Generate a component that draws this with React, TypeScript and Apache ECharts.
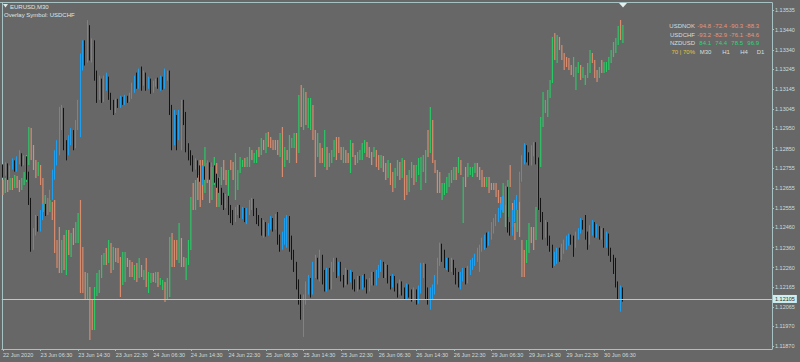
import React, { useEffect, useRef } from "react";
import * as echarts from "echarts";

const BG = "#676767";
const FRAME = "#a6c2c2";
const AXIS_TEXT = "#cddcdc";
const TITLE_TEXT = "#dde6e6";
const BULL = "#1e9ff0";
const BEAR = "#131313";
const OV_UP = "#2bc866";
const OV_DOWN = "#d98c6e";
const SALMON_TXT = "#e8957a";
const GREEN_TXT = "#2fd577";
const YELLOW_TXT = "#e2c34a";
const FONT = '"Liberation Sans", Arial, sans-serif';

const symbolName = "EURUSD,M30";
const overlayName = "Overlay Symbol: USDCHF";

// time-axis labels, one every 16 bars (8 hours of M30)
const timeLabels = [
  "22 Jun 2020", "23 Jun 06:30", "23 Jun 14:30", "23 Jun 22:30", "24 Jun 06:30",
  "24 Jun 14:30", "24 Jun 22:30", "25 Jun 06:30", "25 Jun 14:30", "25 Jun 22:30",
  "26 Jun 06:30", "26 Jun 14:30", "26 Jun 22:30", "29 Jun 06:30", "29 Jun 14:30",
  "29 Jun 22:30", "30 Jun 06:30",
];
const LABEL_STEP = 16;
const FUTURE_SLOTS = 63;

const priceTicks = [
  1.13535, 1.1344, 1.1334, 1.13245, 1.13145, 1.13045, 1.1295, 1.1285, 1.12755,
  1.12655, 1.12555, 1.1246, 1.1236, 1.1226, 1.12165, 1.12065, 1.1197, 1.1187,
];
const lastPrice = 1.12105;

// EURUSD M30 bars: [open, close, low, high] in points above 1.10000
const eurusdPts = [
  [2752,2736,2706,2772],[2736,2762,2716,2782],[2762,2726,2696,2777],[2726,2752,2706,2767],[2752,2782,2746,2802],[2782,2752,2736,2792],[2752,2792,2736,2812],[2792,2812,2772,2842],[2812,2782,2762,2827],[2782,2802,2767,2817],
  [2802,2721,2696,2812],[2721,2596,2571,2736],[2596,2374,2339,2606],[2374,2439,2349,2456],[2439,2496,2419,2521],[2496,2456,2439,2516],[2456,2521,2439,2546],[2521,2556,2496,2576],[2556,2536,2516,2576],[2536,2586,2521,2606],
  [2586,2621,2561,2646],[2621,2721,2596,2746],[2721,2792,2696,2842],[2792,2842,2767,2892],[2842,2992,2817,3057],[2967,3042,2942,3067],[3032,2867,2842,3052],[2867,2817,2792,2892],[2832,2902,2817,2917],[2892,2932,2867,2952],
  [2927,2867,2842,2942],[2867,2967,2852,2992],[2967,3067,2942,3092],[3052,3287,2907,3322],[3277,3362,3237,3387],[3362,3287,3262,3387],[3287,3437,3277,3487],[3427,3312,3287,3462],[3297,3377,3277,3397],[3377,3212,3187,3387],
  [3212,3112,3077,3237],[3112,3187,3092,3212],[3187,3092,3077,3197],[3092,3187,3082,3212],[3177,3197,3137,3227],[3197,3112,3092,3207],[3112,3067,3042,3127],[3072,3042,3017,3092],[3042,3082,3027,3097],[3082,3062,3052,3097],
  [3062,3097,3052,3112],[3092,3077,3067,3107],[3077,3102,3067,3117],[3102,3092,3077,3112],[3092,3112,3082,3127],[3107,3162,3097,3177],[3157,3197,3127,3212],[3197,3162,3147,3227],[3162,3227,3147,3247],[3227,3187,3137,3257],
  [3187,3212,3162,3237],[3212,3177,3137,3227],[3177,3187,3147,3207],[3187,3147,3122,3197],[3147,3177,3127,3187],[3172,3187,3157,3197],[3187,3162,3147,3202],[3162,3187,3137,3212],[3187,3157,3142,3207],[3157,3227,3147,3247],
  [3217,3227,3187,3237],[3227,3042,3017,3237],[3042,2892,2842,3067],[2892,2992,2867,3042],[2992,2917,2842,3017],[2917,3017,2892,3042],[3002,3082,2842,3092],[3082,2992,2967,3092],[2992,2842,2832,3032],[2852,2817,2792,2877],
  [2817,2792,2767,2842],[2792,2752,2736,2817],[2752,2782,2746,2802],[2782,2736,2706,2792],[2736,2706,2686,2767],[2706,2746,2671,2767],[2746,2721,2696,2762],[2716,2767,2696,2792],[2767,2721,2696,2782],[2721,2752,2696,2782],
  [2752,2706,2681,2767],[2706,2686,2656,2726],[2686,2646,2631,2706],[2646,2606,2571,2656],[2606,2571,2546,2631],[2571,2606,2556,2626],[2606,2546,2521,2616],[2546,2521,2481,2571],[2521,2506,2471,2546],[2506,2546,2486,2561],
  [2541,2556,2521,2571],[2556,2526,2506,2571],[2526,2546,2501,2561],[2546,2506,2486,2556],[2506,2536,2476,2556],[2536,2571,2521,2596],[2566,2596,2546,2606],[2596,2536,2516,2601],[2536,2496,2476,2556],[2496,2486,2466,2521],
  [2486,2449,2419,2506],[2449,2471,2409,2496],[2466,2434,2414,2486],[2434,2466,2419,2481],[2466,2496,2449,2516],[2496,2456,2439,2506],[2456,2486,2449,2526],[2486,2399,2374,2536],[2399,2369,2339,2424],[2369,2409,2349,2439],
  [2409,2486,2374,2506],[2476,2506,2359,2521],[2506,2399,2339,2516],[2399,2324,2299,2419],[2324,2259,2239,2349],[2259,2177,2152,2289],[2177,2102,2077,2202],[2102,2052,2002,2127],[2052,2102,1917,2127],[2102,2162,2077,2192],
  [2152,2192,2127,2224],[2192,2142,2112,2209],[2142,2249,2127,2289],[2239,2289,2209,2324],[2289,2224,2202,2309],[2224,2309,2192,2349],[2309,2224,2177,2324],[2224,2162,2142,2249],[2162,2239,2142,2259],[2239,2177,2152,2259],
  [2177,2259,2152,2289],[2259,2289,2239,2309],[2289,2239,2209,2309],[2239,2269,2219,2289],[2269,2209,2192,2289],[2209,2192,2162,2224],[2192,2239,2172,2259],[2239,2202,2177,2249],[2202,2229,2187,2249],[2229,2177,2152,2239],
  [2177,2162,2142,2202],[2162,2202,2142,2219],[2202,2172,2152,2219],[2172,2209,2152,2224],[2209,2182,2162,2229],[2182,2162,2132,2202],[2162,2192,2142,2209],[2192,2219,2172,2239],[2219,2192,2172,2239],[2192,2229,2172,2249],
  [2229,2259,2209,2274],[2259,2274,2239,2299],[2274,2229,2209,2289],[2229,2259,2209,2279],[2259,2202,2182,2274],[2202,2177,2152,2219],[2177,2209,2162,2229],[2209,2162,2142,2219],[2162,2142,2112,2182],[2142,2182,2127,2202],
  [2182,2142,2122,2192],[2142,2122,2102,2162],[2122,2162,2102,2182],[2162,2132,2112,2177],[2132,2112,2092,2152],[2112,2142,2092,2162],[2142,2102,2077,2152],[2102,2152,2082,2172],[2152,2249,2132,2284],[2239,2269,2209,2284],
  [2269,2142,2102,2279],[2142,2102,2077,2162],[2102,2142,2052,2162],[2132,2162,2102,2177],[2152,2202,2127,2224],[2202,2289,2177,2309],[2289,2359,2269,2384],[2359,2309,2289,2379],[2309,2279,2259,2349],[2279,2289,2249,2309],
  [2289,2259,2239,2309],[2259,2289,2239,2309],[2289,2249,2224,2299],[2249,2209,2177,2259],[2209,2177,2162,2239],[2177,2209,2152,2239],[2209,2239,2192,2259],[2239,2202,2177,2259],[2202,2249,2182,2269],[2249,2274,2224,2299],
  [2269,2289,2249,2309],[2289,2309,2269,2329],[2309,2349,2289,2359],[2349,2359,2239,2374],[2359,2389,2339,2409],[2379,2409,2349,2424],[2409,2384,2359,2434],[2384,2424,2369,2439],[2419,2456,2399,2486],[2456,2486,2429,2506],
  [2486,2506,2466,2526],[2506,2536,2486,2556],[2536,2566,2506,2581],[2566,2596,2536,2616],[2596,2646,2571,2666],[2646,2456,2434,2661],[2456,2439,2419,2486],[2439,2521,2419,2546],[2521,2571,2486,2596],[2571,2606,2546,2621],
  [2606,2706,2586,2736],[2706,2792,2686,2817],[2792,2852,2772,2877],[2852,2802,2782,2867],[2802,2782,2767,2832],[2782,2842,2767,2867],[2842,2867,2812,2882],[2867,2792,2772,2882],[2792,2571,2546,2807],[2571,2521,2486,2606],
  [2521,2424,2399,2536],[2424,2471,2409,2496],[2471,2399,2369,2486],[2399,2359,2339,2419],[2359,2289,2259,2374],[2289,2309,2269,2339],[2309,2339,2279,2359],[2339,2324,2289,2359],[2324,2369,2299,2379],[2369,2379,2329,2399],
  [2379,2399,2349,2419],[2399,2409,2369,2429],[2409,2399,2374,2424],[2399,2379,2314,2419],[2379,2419,2359,2439],[2414,2449,2399,2456],[2449,2486,2429,2506],[2486,2466,2449,2496],[2466,2419,2399,2521],[2419,2389,2349,2439],
  [2389,2456,2374,2471],[2449,2476,2419,2496],[2476,2424,2409,2486],[2424,2456,2409,2476],[2456,2419,2399,2466],[2419,2449,2399,2456],[2449,2379,2359,2456],[2379,2419,2359,2439],[2419,2339,2319,2429],[2339,2309,2289,2359],
  [2309,2249,2229,2324],[2249,2177,2162,2309],[2177,2127,2102,2192],[2127,2152,2042,2172],[2152,2105,2092,2162],
];

// USDCHF overlay bars: [open, close, low, high] in points above 0.90000
const usdchfPts = [
  [4845,4830,4815,4860],[4830,4851,4821,4866],[4851,4836,4824,4860],[4836,4854,4830,4866],[4854,4842,4830,4866],[4842,4860,4836,4875],[4860,4848,4836,4872],[4848,4836,4824,4860],[4836,4854,4830,4866],[4854,4866,4845,4884],
  [4866,4920,4854,4935],[4920,5010,4905,5019],[5010,4950,4920,5016],[4950,4905,4890,4965],[4905,4884,4866,4920],[4884,4896,4872,4914],[4896,4860,4845,4905],[4860,4785,4764,4866],[4785,4800,4770,4815],[4800,4776,4755,4806],
  [4776,4785,4764,4800],[4785,4755,4740,4794],[4755,4650,4641,4800],[4650,4614,4596,4680],[4614,4590,4581,4719],[4590,4665,4581,4680],[4665,4614,4590,4695],[4614,4704,4575,4710],[4704,4650,4635,4710],[4650,4695,4629,4701],
  [4695,4680,4665,4716],[4680,4725,4671,4734],[4725,4755,4671,4761],[4755,4620,4521,4800],[4620,4575,4521,4659],[4575,4530,4500,4584],[4530,4566,4500,4581],[4530,4440,4380,4539],[4446,4425,4410,4500],[4425,4515,4410,4539],
  [4515,4560,4512,4581],[4554,4575,4521,4590],[4575,4614,4566,4635],[4614,4626,4605,4641],[4626,4614,4605,4656],[4614,4665,4611,4680],[4665,4614,4581,4671],[4614,4650,4590,4659],[4650,4632,4614,4656],[4632,4614,4611,4656],
  [4614,4560,4509,4629],[4560,4614,4545,4644],[4614,4635,4554,4644],[4620,4605,4599,4626],[4605,4584,4569,4620],[4596,4575,4569,4614],[4575,4596,4560,4605],[4596,4560,4554,4611],[4575,4614,4566,4626],[4599,4575,4569,4605],
  [4566,4584,4560,4590],[4584,4545,4539,4626],[4545,4575,4521,4584],[4560,4575,4551,4581],[4575,4560,4554,4581],[4560,4581,4551,4584],[4581,4554,4539,4584],[4554,4560,4545,4566],[4536,4554,4530,4560],[4554,4506,4494,4554],
  [4506,4545,4500,4566],[4545,4665,4509,4689],[4665,4620,4599,4701],[4635,4614,4599,4680],[4665,4635,4620,4680],[4626,4710,4611,4731],[4680,4614,4599,4686],[4620,4605,4599,4629],[4575,4614,4560,4626],[4614,4665,4605,4680],
  [4665,4785,4650,4809],[4800,4776,4770,4851],[4785,4830,4770,4860],[4830,4806,4800,4875],[4845,4800,4779,4920],[4890,4830,4800,4920],[4830,4905,4821,4959],[4896,4860,4851,4911],[4875,4815,4791,4899],[4815,4875,4800,4899],
  [4854,4914,4845,4929],[4905,4800,4779,4911],[4800,4860,4779,4869],[4854,4890,4845,4899],[4896,4866,4860,4920],[4875,4854,4845,4890],[4815,4884,4800,4890],[4914,4896,4890,4920],[4905,4866,4860,4914],[4815,4920,4800,4941],
  [4860,4884,4830,4890],[4890,4920,4881,4929],[4905,4914,4899,4920],[4920,4905,4899,4926],[4905,4926,4899,4929],[4914,4950,4899,4959],[4944,4926,4920,4950],[4920,4935,4911,4941],[4926,4944,4911,4950],[4959,4935,4929,4959],
  [4944,4974,4935,4986],[4974,4956,4950,4980],[4950,4995,4941,5001],[5001,4965,4959,5004],[4986,4965,4956,4989],[4980,4956,4950,4980],[4974,4956,4950,4980],[4980,4944,4935,4980],[4935,4980,4929,5001],[4995,4890,4869,5019],
  [4905,4935,4899,4959],[4950,4926,4920,4950],[4920,4980,4911,4995],[4965,4980,4956,4986],[4974,4995,4956,5001],[4995,4926,4911,5001],[4950,5100,4941,5115],[5115,5046,5019,5145],[5046,5115,5010,5136],[5115,5070,5025,5124],
  [5046,5085,5016,5106],[5070,5100,5010,5106],[5085,4995,4980,5085],[4995,4920,4869,5010],[4935,4995,4929,5001],[4965,4920,4911,4971],[4935,4920,4911,4956],[4914,4980,4899,5010],[4956,4905,4890,4959],[4905,4935,4899,4941],
  [4926,4944,4911,4950],[4935,4974,4929,4980],[4980,4950,4920,4989],[4980,4956,4941,4989],[4956,4935,4920,4959],[4920,4950,4911,4959],[4944,4920,4911,4950],[4935,4914,4911,4941],[4905,4965,4881,4980],[4965,4944,4929,4971],
  [4935,4914,4905,4935],[4914,4929,4911,4944],[4926,4944,4920,4950],[4929,4959,4920,4971],[4950,4974,4941,4980],[4974,4944,4929,4974],[4956,4935,4926,4959],[4944,4920,4905,4944],[4935,4950,4929,4959],[4944,4920,4899,4950],
  [4926,4905,4890,4935],[4905,4926,4896,4935],[4926,4896,4884,4932],[4902,4875,4860,4911],[4875,4905,4866,4920],[4905,4866,4845,4911],[4875,4845,4824,4884],[4845,4884,4836,4896],[4884,4905,4872,4920],[4905,4875,4860,4914],
  [4875,4914,4866,4926],[4914,4860,4800,4920],[4860,4836,4815,4875],[4836,4875,4824,4890],[4875,4896,4866,4914],[4896,4866,4845,4905],[4866,4890,4854,4905],[4890,4914,4875,4926],[4845,4920,4830,4929],[4896,4920,4884,4935],
  [4875,4935,4851,4950],[4986,4950,4929,5010],[4950,5055,4941,5079],[5040,4920,4911,5040],[4920,4890,4881,4920],[4890,4845,4821,4890],[4860,4830,4821,4884],[4806,4845,4800,4851],[4824,4845,4815,4851],[4830,4860,4821,4869],
  [4845,4875,4839,4881],[4860,4884,4851,4890],[4866,4890,4860,4899],[4896,4875,4860,4899],[4890,4920,4881,4929],[4914,4884,4875,4920],[4755,4860,4731,4869],[4890,4854,4839,4899],[4875,4896,4869,4911],[4884,4896,4875,4899],
  [4875,4896,4869,4899],[4884,4905,4881,4911],[4905,4884,4869,4911],[4896,4866,4860,4899],[4884,4860,4839,4890],[4866,4845,4839,4869],[4839,4860,4839,4869],[4860,4830,4821,4869],[4845,4836,4830,4851],[4845,4830,4830,4851],
  [4845,4824,4809,4851],[4830,4800,4791,4830],[4806,4785,4770,4809],[4770,4815,4761,4851],[4755,4800,4719,4809],[4785,4851,4749,4860],[4890,4845,4839,4905],[4785,4734,4719,4791],[4725,4695,4680,4731],[4710,4746,4704,4770],
  [4785,4695,4689,4851],[4665,4605,4569,4680],[4635,4596,4569,4650],[4611,4665,4611,4680],[4650,4695,4641,4731],[4710,4680,4671,4719],[4710,4665,4650,4719],[4680,4755,4680,4779],[4770,4905,4770,4929],[4920,5025,4899,5049],
  [5019,5100,5019,5124],[5070,5100,5061,5100],[5055,5115,5049,5130],[5115,5145,5106,5160],[5151,5280,5151,5289],[5286,5235,5220,5301],[5226,5280,5211,5295],[5286,5259,5250,5289],[5259,5229,5220,5265],[5235,5205,5190,5241],
  [5220,5205,5199,5229],[5220,5196,5190,5226],[5202,5184,5175,5205],[5184,5220,5169,5229],[5175,5190,5130,5199],[5190,5205,5181,5214],[5202,5184,5160,5205],[5175,5190,5166,5199],[5154,5172,5145,5175],[5175,5205,5166,5211],
  [5190,5235,5181,5250],[5235,5220,5211,5241],[5220,5184,5166,5220],[5184,5172,5154,5190],[5172,5190,5166,5199],[5205,5184,5181,5220],[5184,5205,5181,5214],[5190,5205,5184,5214],[5196,5214,5190,5229],[5214,5235,5211,5250],
  [5235,5259,5229,5274],[5250,5280,5241,5286],[5280,5316,5265,5322],[5325,5286,5280,5340],[5280,5316,5271,5325],
];

// strength table (top right)
const tableSymbols = ["USDNOK", "USDCHF", "NZDUSD"];
const tableValues = [
  ["-94.8", "-72.4", "-90.3", "-88.3"],
  ["-93.2", "-82.9", "-76.1", "-84.6"],
  ["84.1", "74.4", "78.5", "96.9"],
];
const tableColors = [SALMON_TXT, SALMON_TXT, GREEN_TXT];
const tableFooter = "70 | 70%";
const tableFrames = ["M30", "H1", "H4", "D1"];

export default function App() {
  const ref = useRef<HTMLDivElement>(null);

  useEffect(() => {
    if (!ref.current) return;
    const chart = echarts.init(ref.current, undefined, { renderer: "svg" });

    const total = eurusdPts.length + FUTURE_SLOTS;
    const categories = Array.from({ length: total }, (_, i) => String(i));
    const candleData = eurusdPts.map((b) => b.map((v) => +(1.1 + v / 100000).toFixed(5)));
    const overlayData = usdchfPts.map((b, i) => [i, ...b.map((v) => +(0.9 + v / 100000).toFixed(5))]);

    const showIdx = (index: number) =>
      index % LABEL_STEP === 0 && index / LABEL_STEP < timeLabels.length;

    const rowY = [26, 34.5, 43];
    const colRight = [711, 727, 743, 759];
    const graphics: any[] = [
      { type: "line", silent: true, shape: { x1: 0, y1: 2.5, x2: 772.5, y2: 2.5 }, style: { stroke: FRAME, lineWidth: 1 } },
      { type: "line", silent: true, shape: { x1: 2.5, y1: 2.5, x2: 2.5, y2: 349 }, style: { stroke: FRAME, lineWidth: 1 } },
      { type: "polygon", silent: true, shape: { points: [[3, 4], [8, 4], [5.5, 7.5]] }, style: { fill: TITLE_TEXT } },
      { type: "polygon", silent: true, shape: { points: [[619, 3], [627, 3], [623, 7.5]] }, style: { fill: "#e4eeee" } },
      { type: "text", silent: true, x: 10, y: 6.5, style: { text: symbolName, fill: TITLE_TEXT, font: `6px ${FONT}`, textAlign: "left", textVerticalAlign: "middle" } },
      { type: "text", silent: true, x: 4, y: 15, style: { text: overlayName, fill: TITLE_TEXT, font: `6px ${FONT}`, textAlign: "left", textVerticalAlign: "middle" } },
    ];
    tableSymbols.forEach((s, r) => {
      graphics.push({ type: "text", silent: true, x: 695, y: rowY[r], style: { text: s, fill: "#d6dede", font: `6px ${FONT}`, textAlign: "right", textVerticalAlign: "middle" } });
      tableValues[r].forEach((v, c) => {
        graphics.push({ type: "text", silent: true, x: colRight[c], y: rowY[r], style: { text: v, fill: tableColors[r], font: `6px ${FONT}`, textAlign: "right", textVerticalAlign: "middle" } });
      });
    });
    graphics.push({ type: "text", silent: true, x: 695, y: 52, style: { text: tableFooter, fill: YELLOW_TXT, font: `6px ${FONT}`, textAlign: "right", textVerticalAlign: "middle" } });
    const frameX = [705.5, 726, 744, 760.5];
    tableFrames.forEach((f, c) => {
      graphics.push({ type: "text", silent: true, x: frameX[c], y: 52, style: { text: f, fill: "#d6dede", font: `6px ${FONT}`, textAlign: "center", textVerticalAlign: "middle" } });
    });

    const option: any = {
      animation: false,
      backgroundColor: BG,
      grid: { left: 0, right: 28, top: 3, bottom: 13, containLabel: false },
      xAxis: {
        type: "category",
        data: categories,
        boundaryGap: true,
        axisLine: { show: true, onZero: false, lineStyle: { color: FRAME, width: 1 } },
        axisTick: { show: true, interval: (i: number) => showIdx(i), alignWithLabel: true, length: 2, lineStyle: { color: FRAME } },
        axisLabel: {
          show: true,
          interval: (i: number) => showIdx(i),
          formatter: (_v: string, i: number) => (showIdx(i) ? timeLabels[i / LABEL_STEP] : ""),
          align: "left",
          color: AXIS_TEXT,
          fontSize: 5.5,
          fontFamily: FONT,
          margin: 3,
        },
        splitLine: { show: false },
      },
      yAxis: [
        {
          type: "value",
          position: "right",
          min: 1.11857,
          max: 1.13572,
          scale: true,
          axisLine: { show: true, onZero: false, lineStyle: { color: FRAME, width: 1 } },
          axisTick: { show: true, length: 2, customValues: priceTicks, lineStyle: { color: FRAME } },
          axisLabel: {
            show: true,
            customValues: priceTicks,
            formatter: (v: number) => v.toFixed(5),
            color: AXIS_TEXT,
            fontSize: 5.5,
            fontFamily: FONT,
            margin: 3,
          },
          splitLine: { show: false },
        },
        { type: "value", min: 0.94353, max: 0.95391, scale: true, show: false },
      ],
      series: [
        {
          type: "custom",
          name: "USDCHF",
          xAxisIndex: 0,
          yAxisIndex: 1,
          clip: true,
          z: 1,
          encode: { x: 0, y: [1, 2, 3, 4] },
          data: overlayData,
          renderItem: (_params: any, api: any) => {
            const idx = api.value(0);
            const o = api.value(1);
            const c = api.value(2);
            const lo = api.coord([idx, api.value(3)]);
            const hi = api.coord([idx, api.value(4)]);
            return {
              type: "line",
              shape: { x1: lo[0], y1: lo[1], x2: hi[0], y2: hi[1] },
              style: { stroke: c >= o ? OV_UP : OV_DOWN, lineWidth: 1.2 },
            };
          },
        },
        {
          type: "candlestick",
          name: "EURUSD",
          xAxisIndex: 0,
          yAxisIndex: 0,
          z: 3,
          barWidth: 1.1,
          data: candleData,
          itemStyle: { color: BULL, color0: BEAR, borderColor: BULL, borderColor0: BEAR, borderWidth: 1 },
          markLine: {
            silent: true,
            precision: 5,
            symbol: ["none", "none"],
            animation: false,
            lineStyle: { color: "#b2cccc", width: 1, type: "solid" },
            label: {
              show: true,
              position: "end",
              distance: 1,
              formatter: () => lastPrice.toFixed(5),
              backgroundColor: "#cdeff2",
              color: "#2a2a2a",
              fontSize: 5.5,
              fontFamily: FONT,
              padding: [1, 2, 1, 2],
            },
            data: [{ yAxis: lastPrice }],
          },
        },
      ],
      graphic: graphics,
    };

    chart.setOption(option);
    return () => chart.dispose();
  }, []);

  return (
    <div
      ref={ref}
      style={{ position: "fixed", left: 0, top: 0, width: 800, height: 362, background: BG }}
    />
  );
}
